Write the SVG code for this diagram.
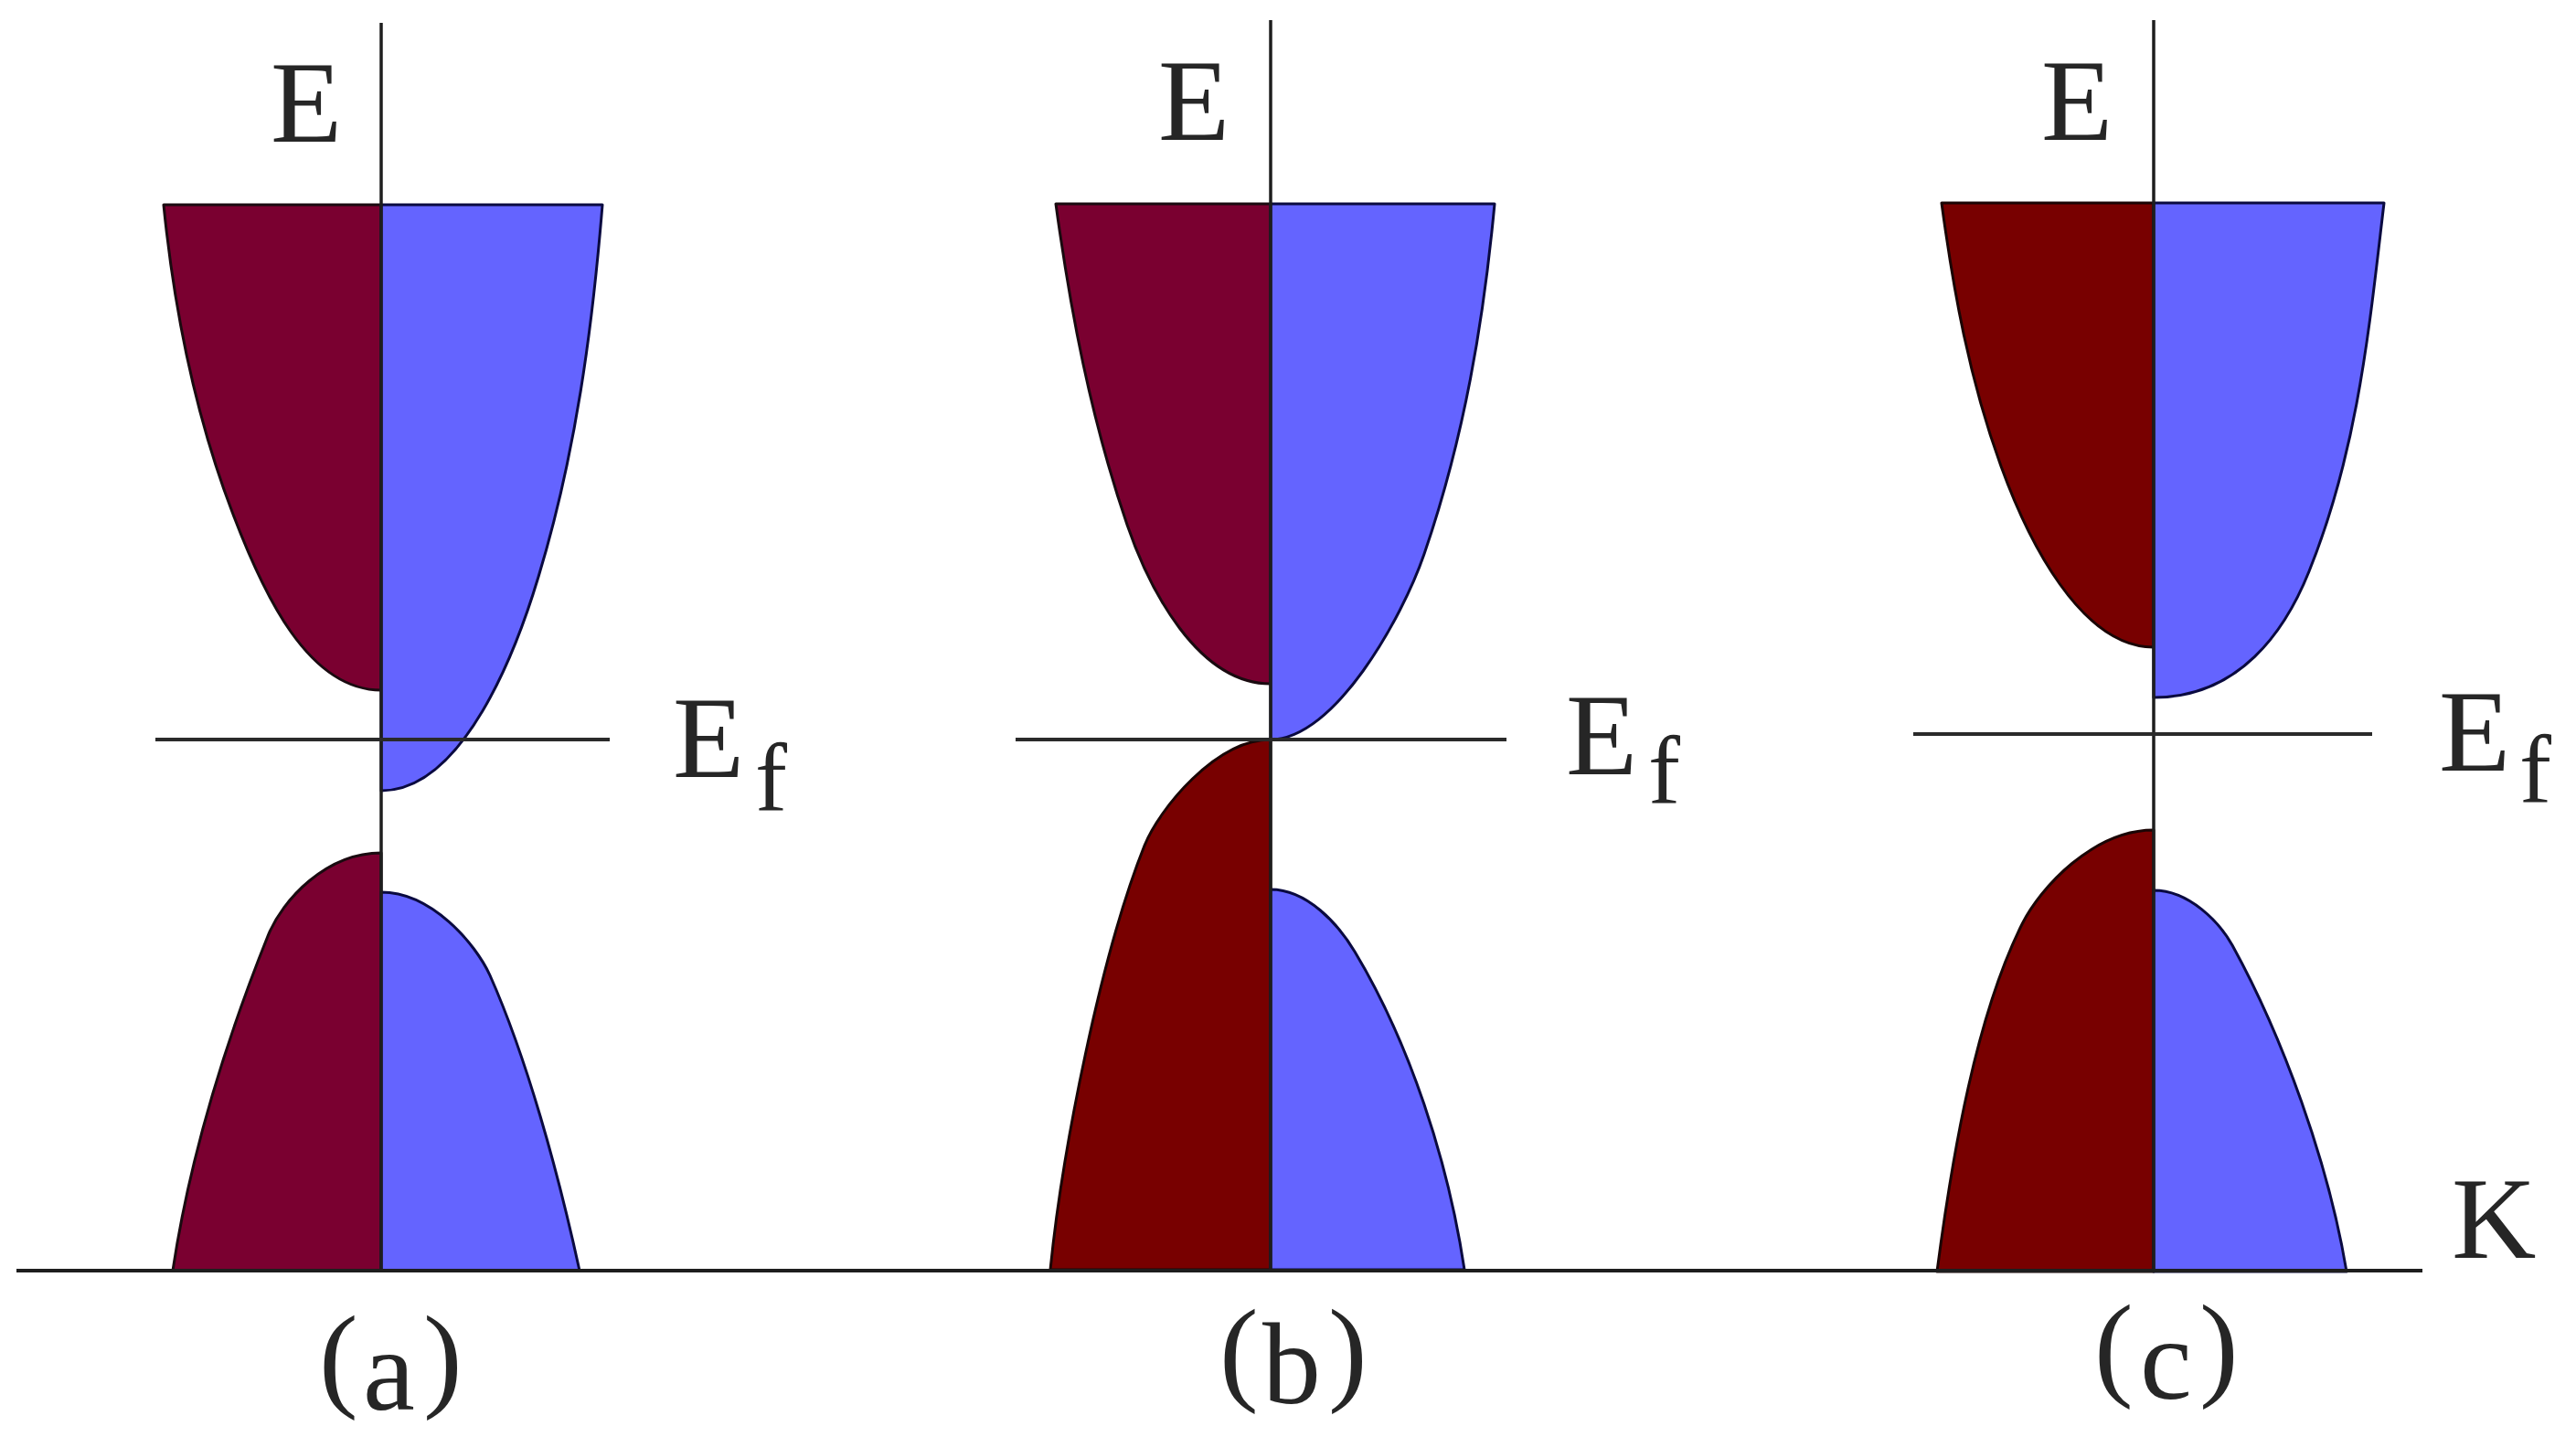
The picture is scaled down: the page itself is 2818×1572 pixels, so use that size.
<svg xmlns="http://www.w3.org/2000/svg" width="2818" height="1572" viewBox="0 0 2818 1572">
<style>
.m1{fill:#7a0030;stroke:#1a0a10;stroke-width:3;stroke-linejoin:round}
.m2{fill:#780000;stroke:#1a0505;stroke-width:3;stroke-linejoin:round}
.bl{fill:#6464ff;stroke:#0a0a40;stroke-width:3;stroke-linejoin:round}
.ax{stroke:#1e1e1e;stroke-width:3.5;fill:none}
.ef{stroke:#2a2a2a;stroke-width:4;fill:none}
.t{font-family:"Liberation Serif","Times New Roman",serif;fill:#262626;font-size:128px}
.s{font-size:105px}
</style>
<rect x="0" y="0" width="2818" height="1572" fill="#ffffff"/>

<g id="panel-a">
  <path class="m1" d="M417,224 L179,224 C190,334 212,450 254,560 C288,650 337,755 417,755 Z"/>
  <path class="bl" d="M417,224 L659,224 C648,359 630,496 589,631 C565,711 507,865 417,865 Z"/>
  <path class="m1" d="M417,933 C357,933 309,984 293,1024 C245,1144 207,1270 189,1390 L417,1390 Z"/>
  <path class="bl" d="M417,976 C472,976 520,1032 536,1067 C576,1157 610,1280 634,1390 L417,1390 Z"/>
</g>

<g id="panel-b">
  <path class="m1" d="M1390,223 L1155,223 C1171,340 1193,457 1233,574 C1257,644 1310,748 1390,748 Z"/>
  <path class="bl" d="M1390,223 L1635,223 C1623,351 1602,478 1558,606 C1534,676 1460,809 1390,809 Z"/>
  <path class="m2" d="M1390,809 C1330,809 1268,885 1252,925 C1204,1045 1162,1259 1149,1389 L1390,1389 Z"/>
  <path class="bl" d="M1390,973 C1430,973 1464,1011 1482,1041 C1542,1141 1584,1269 1602,1389 L1390,1389 Z"/>
</g>

<g id="panel-c">
  <path class="m2" d="M2356,222 L2124,222 C2137,318 2154,414 2189,510 C2218,590 2276,708 2356,708 Z"/>
  <path class="bl" d="M2356,222 L2608,222 C2592,356 2580,491 2526,625 C2500,690 2450,763 2356,763 Z"/>
  <path class="m2" d="M2356,908 C2290,908 2232,971 2212,1011 C2162,1111 2136,1261 2119,1391 L2356,1391 Z"/>
  <path class="bl" d="M2356,974 C2395,974 2428,1009 2442,1034 C2497,1134 2547,1271 2567,1391 L2356,1391 Z"/>
</g>

<g id="connectors">
  <line class="ax" x1="417" y1="25" x2="417" y2="1390"/>
  <line class="ax" x1="1390" y1="22" x2="1390" y2="1390"/>
  <line class="ax" x1="2356" y1="22" x2="2356" y2="1391"/>
  <line class="ef" x1="170" y1="809" x2="667" y2="809"/>
  <line class="ef" x1="1111" y1="809" x2="1648" y2="809"/>
  <line class="ef" x1="2093" y1="803" x2="2595" y2="803"/>
  <line class="ax" x1="18" y1="1390" x2="2650" y2="1390" style="stroke-width:4"/>
</g>

<g id="labels">
  <text class="t" x="296" y="155">E</text>
  <text class="t" x="1267" y="153">E</text>
  <text class="t" x="2233" y="153">E</text>

  <text class="t" x="736" y="850">E<tspan class="s" x="826" y="886">f</tspan></text>
  <text class="t" x="1713" y="847">E<tspan class="s" x="1803" y="878">f</tspan></text>
  <text class="t" x="2668" y="843">E<tspan class="s" x="2756" y="877">f</tspan></text>

  <text class="t" x="2682" y="1376">K</text>

  <text class="t"><tspan x="349" y="1527">(</tspan><tspan x="397" y="1542">a</tspan><tspan x="463" y="1527">)</tspan></text>
  <text class="t"><tspan x="1334" y="1520">(</tspan><tspan x="1381" y="1535">b</tspan><tspan x="1453" y="1520">)</tspan></text>
  <text class="t"><tspan x="2291" y="1515">(</tspan><tspan x="2341" y="1530">c</tspan><tspan x="2406" y="1515">)</tspan></text>
</g>
</svg>
